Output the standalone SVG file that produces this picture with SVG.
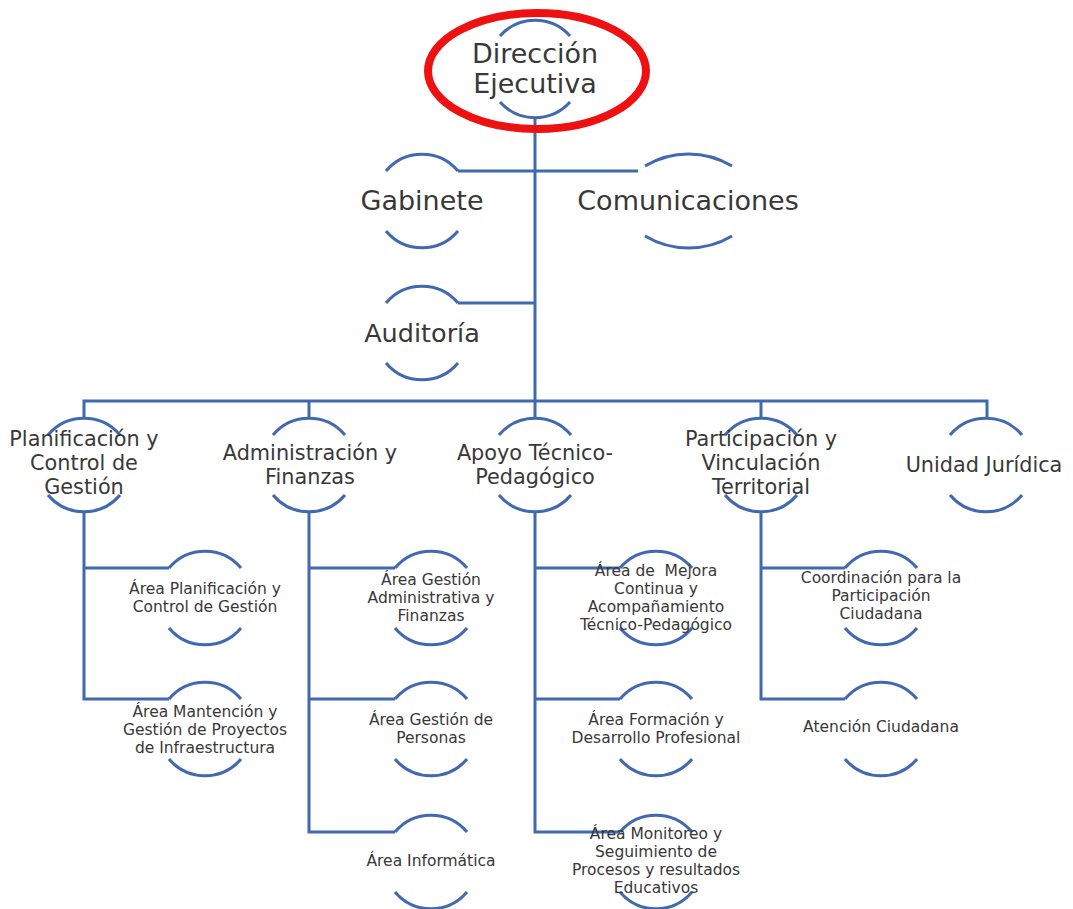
<svg xmlns="http://www.w3.org/2000/svg" width="1073" height="909" viewBox="0 0 1073 909">
<style>
.ln{stroke:#4169B1;stroke-width:3;fill:none}
.arc{stroke:#4169B1;stroke-width:3;fill:none}
.t{font-family:"DejaVu Sans","Liberation Sans",sans-serif;fill:#383838;text-anchor:middle}
.t1{font-size:27px}
.t2{font-size:20.8px}
.t3{font-size:15.5px}
</style>
<rect width="1073" height="909" fill="#fff"/>
<g id="connectors">
<path class="ln" d="M535,117V418"/>
<path class="ln" d="M458,171H638"/>
<path class="ln" d="M458,303H535"/>
<path class="ln" d="M84,418V401H987V418M309,401V418M761,401V418"/>
<path class="ln" d="M84,512V699H169M84,568H169"/>
<path class="ln" d="M309,512V832H395M309,568H395M309,699H395"/>
<path class="ln" d="M535,512V832H620M535,568H620M535,699H620"/>
<path class="ln" d="M761,512V699H845M761,568H845"/>
</g>
<g id="n-direccion">
<path class="arc" d="M500,36A47,47 0 0 1 570,36M500,102A47,47 0 0 0 570,102"/>
<text class="t t1" x="535" y="63">Dirección</text>
<text class="t t1" x="535" y="93">Ejecutiva</text>
</g>
<g id="n-gabinete">
<path class="arc" d="M386,171A47,47 0 0 1 458,171M386,231A47,47 0 0 0 458,231"/>
<text class="t t1" x="422" y="210">Gabinete</text>
</g>
<g id="n-comunicaciones">
<path class="arc" d="M645,166A85,85 0 0 1 732,166M645,236A85,85 0 0 0 732,236"/>
<text class="t t1" x="688" y="210">Comunicaciones</text>
</g>
<g id="n-auditoria">
<path class="arc" d="M386,303A47,47 0 0 1 458,303M386,363A47,47 0 0 0 458,363"/>
<text class="t t1" x="422" y="342" style="font-size:25.5px">Auditoría</text>
</g>
<g id="n-planificacion">
<path class="arc" d="M48,435A47,47 0 0 1 120,435M48,495A47,47 0 0 0 120,495"/>
<text class="t t2" x="84" y="446">Planificación y</text>
<text class="t t2" x="84" y="470">Control de</text>
<text class="t t2" x="84" y="494">Gestión</text>
</g>
<g id="n-administracion">
<path class="arc" d="M273,435A47,47 0 0 1 345,435M273,495A47,47 0 0 0 345,495"/>
<text class="t t2" x="310" y="460">Administración y</text>
<text class="t t2" x="310" y="484">Finanzas</text>
</g>
<g id="n-apoyo">
<path class="arc" d="M499,435A47,47 0 0 1 571,435M499,495A47,47 0 0 0 571,495"/>
<text class="t t2" x="535" y="460">Apoyo Técnico-</text>
<text class="t t2" x="535" y="484">Pedagógico</text>
</g>
<g id="n-participacion">
<path class="arc" d="M725,435A47,47 0 0 1 797,435M725,495A47,47 0 0 0 797,495"/>
<text class="t t2" x="761" y="446">Participación y</text>
<text class="t t2" x="761" y="470">Vinculación</text>
<text class="t t2" x="761" y="494">Territorial</text>
</g>
<g id="n-juridica">
<path class="arc" d="M950,435A47,47 0 0 1 1022,435M950,495A47,47 0 0 0 1022,495"/>
<text class="t t2" x="984" y="472">Unidad Jurídica</text>
</g>
<g id="n-area-planificacion">
<path class="arc" d="M169,568A47,47 0 0 1 241,568M169,628A47,47 0 0 0 241,628"/>
<text class="t t3" x="205" y="594">Área Planificación y</text>
<text class="t t3" x="205" y="612">Control de Gestión</text>
</g>
<g id="n-area-mantencion">
<path class="arc" d="M169,699A47,47 0 0 1 241,699M169,759A47,47 0 0 0 241,759"/>
<text class="t t3" x="205" y="717">Área Mantención y</text>
<text class="t t3" x="205" y="735">Gestión de Proyectos</text>
<text class="t t3" x="205" y="753">de Infraestructura</text>
</g>
<g id="n-area-gestion-admin">
<path class="arc" d="M395,568A47,47 0 0 1 467,568M395,628A47,47 0 0 0 467,628"/>
<text class="t t3" x="431" y="585">Área Gestión</text>
<text class="t t3" x="431" y="603">Administrativa y</text>
<text class="t t3" x="431" y="621">Finanzas</text>
</g>
<g id="n-area-personas">
<path class="arc" d="M395,699A47,47 0 0 1 467,699M395,759A47,47 0 0 0 467,759"/>
<text class="t t3" x="431" y="725">Área Gestión de</text>
<text class="t t3" x="431" y="743">Personas</text>
</g>
<g id="n-area-informatica">
<path class="arc" d="M395,832A47,47 0 0 1 467,832M395,892A47,47 0 0 0 467,892"/>
<text class="t t3" x="431" y="866">Área Informática</text>
</g>
<g id="n-area-mejora">
<path class="arc" d="M620,568A47,47 0 0 1 692,568M620,628A47,47 0 0 0 692,628"/>
<text class="t t3" x="656" y="576">Área de&#160; Mejora</text>
<text class="t t3" x="656" y="594">Continua y</text>
<text class="t t3" x="656" y="612">Acompañamiento</text>
<text class="t t3" x="656" y="630">Técnico-Pedagógico</text>
</g>
<g id="n-area-formacion">
<path class="arc" d="M620,699A47,47 0 0 1 692,699M620,759A47,47 0 0 0 692,759"/>
<text class="t t3" x="656" y="725">Área Formación y</text>
<text class="t t3" x="656" y="743">Desarrollo Profesional</text>
</g>
<g id="n-area-monitoreo">
<path class="arc" d="M620,832A47,47 0 0 1 692,832M620,892A47,47 0 0 0 692,892"/>
<text class="t t3" x="656" y="839">Área Monitoreo y</text>
<text class="t t3" x="656" y="857">Seguimiento de</text>
<text class="t t3" x="656" y="875">Procesos y resultados</text>
<text class="t t3" x="656" y="893">Educativos</text>
</g>
<g id="n-coordinacion">
<path class="arc" d="M845,568A47,47 0 0 1 917,568M845,628A47,47 0 0 0 917,628"/>
<text class="t t3" x="881" y="583">Coordinación para la</text>
<text class="t t3" x="881" y="601">Participación</text>
<text class="t t3" x="881" y="619">Ciudadana</text>
</g>
<g id="n-atencion">
<path class="arc" d="M845,699A47,47 0 0 1 917,699M845,759A47,47 0 0 0 917,759"/>
<text class="t t3" x="881" y="732">Atención Ciudadana</text>
</g>
<ellipse id="highlight" cx="537" cy="71" rx="109" ry="58" fill="none" stroke="#EE1111" stroke-width="8"/>
</svg>
